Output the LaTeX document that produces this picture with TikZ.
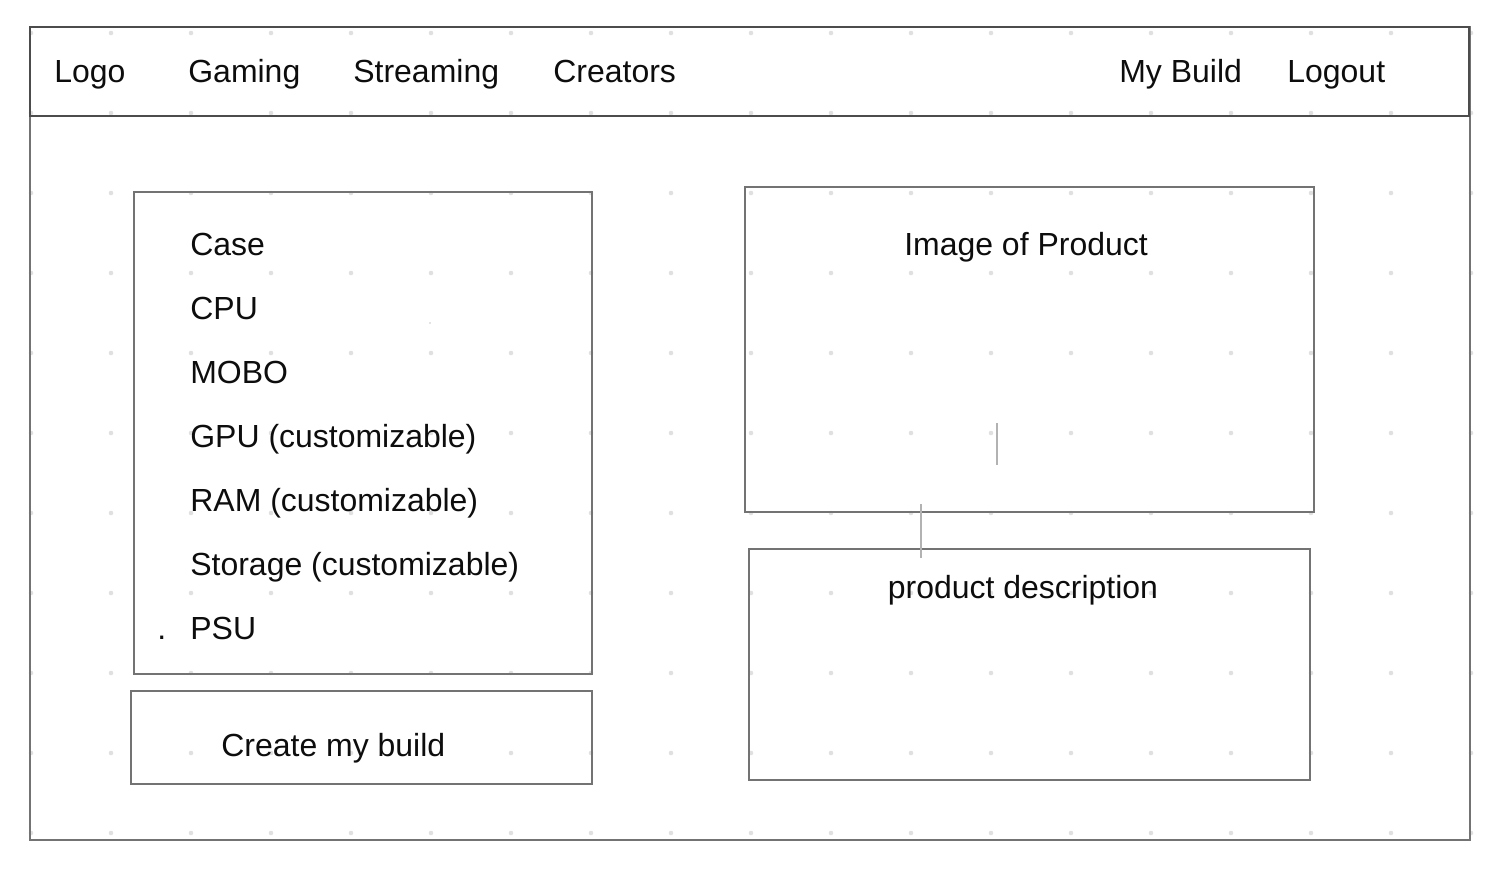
\documentclass[tikz,border=0pt]{standalone}
\usepackage{fontspec}
\setmainfont{Liberation Sans}
\usetikzlibrary{positioning}

\tikzset{
  frameline/.style={draw=black!55, line width=1.5pt},
  navline/.style={draw=black!70, line width=1.5pt},
  strayline/.style={draw=black!30, line width=0.6pt},
  wiretext/.style={inner sep=0pt, text=black!95, font=\fontsize{18.2}{22}\selectfont},
}

\begin{document}
\begin{tikzpicture}[x=0.02cm, y=-0.02cm]
    \useasboundingbox (0,0) rectangle (1502,878);
    % background dot grid
    \foreach \i in {0,...,18}
      \foreach \j in {0,...,10}
        \fill[black!12] (31+80*\i, 33+80*\j) circle (1.3pt);
    % frames
    \draw[frameline] (30,27) rectangle (1470,840);
    \draw[navline] (30,27) rectangle (1469,116);
    \draw[frameline] (134,192) rectangle (592,674);
    \draw[frameline] (131,691) rectangle (592,784);
    \draw[frameline] (745,187) rectangle (1314,512);
    \draw[frameline] (749,549) rectangle (1310,780);
    \draw[strayline] (997,423) -- (997,465);
    \draw[strayline] (921,504) -- (921,558);
    \fill[black!45] (430,323) circle (0.4pt);
    % navigation bar
    \node[wiretext, anchor=base west] (logo) at (54,83) {Logo};
    \node[wiretext, anchor=base west] (gaming) at (188,83) {Gaming};
    \node[wiretext, anchor=base west] (streaming) at (353,83) {Streaming};
    \node[wiretext, anchor=base west] (creators) at (553,83) {Creators};
    \node[wiretext, anchor=base west] (mybuild) at (1119,83) {My Build};
    \node[wiretext, anchor=base west] (logout) at (1287,83) {Logout};
    % parts list
    \foreach \txt/\nm [count=\k from 0] in {Case/case, CPU/cpu, MOBO/mobo,
        GPU (customizable)/gpu, RAM (customizable)/ram,
        Storage (customizable)/storage, PSU/psu}
      \node[wiretext, anchor=base west] (\nm) at (190,256+64*\k) {\txt};
    \node[wiretext, anchor=base west] (psudot) at (157,640) {.};
    \node[wiretext, anchor=base west] (create) at (221,756) {Create my build};
    % product panel
    \node[wiretext, anchor=base] (image) at (1026,256) {Image of Product};
    \node[wiretext, anchor=base] (desc) at (1023,599) {product description};
\end{tikzpicture}
\end{document}
